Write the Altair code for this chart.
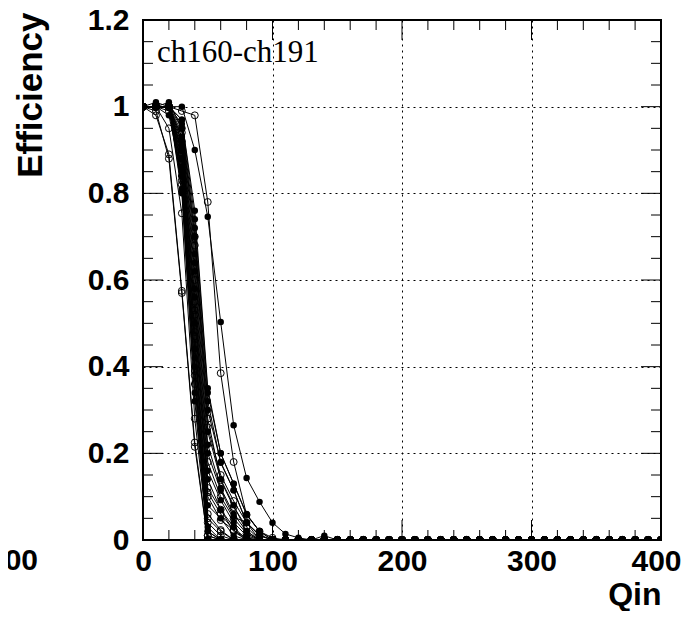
import altair as alt
import pandas as pd

# ---------------- data ----------------
qin_values = list(range(0, 410, 10))          # Qin sampled every 10 from 0 to 400
channels = [f"ch{n}" for n in range(160, 192)]  # ch160 ... ch191

# efficiency starting at Qin = 0 (step 10); all later points read as 0
eff_head = [
    [1.00, 1.00, 1.00, 0.97, 0.74, 0.34, 0.20, 0.13, 0.06, 0.02],
    [1.00, 0.98, 0.89, 0.575, 0.225, 0.00],
    [1.00, 1.00, 1.01, 0.95, 0.70, 0.30, 0.18, 0.115, 0.04, 0.01],
    [1.00, 0.99, 0.88, 0.57, 0.215, 0.00],
    [1.00, 1.00, 1.00, 0.93, 0.66, 0.25, 0.14, 0.08, 0.02],
    [1.00, 1.00, 1.00, 0.99, 0.98, 0.78, 0.385, 0.18, 0.058, 0.02, 0.005],
    [1.00, 1.01, 1.00, 1.00, 0.90, 0.746, 0.503, 0.265, 0.143, 0.088, 0.04, 0.014, 0.005, 0.0, 0.01],
    [1.00, 1.00, 0.99, 0.90, 0.55, 0.12, 0.07, 0.02],
    [1.00, 1.00, 1.00, 0.88, 0.50, 0.08, 0.05, 0.01],
    [1.00, 1.00, 1.00, 0.86, 0.45, 0.05, 0.02],
    [1.00, 1.00, 0.98, 0.84, 0.40, 0.02],
    [1.00, 1.00, 1.00, 0.82, 0.36, 0.00],
    [1.00, 1.00, 1.00, 0.80, 0.32, 0.00],
    [1.00, 1.00, 0.95, 0.754, 0.28, 0.01],
    [1.00, 1.00, 1.00, 0.92, 0.62, 0.20, 0.115, 0.053, 0.04, 0.012],
    [1.00, 1.00, 1.00, 0.94, 0.68, 0.28, 0.138, 0.076, 0.03],
    [1.00, 1.00, 1.00, 0.91, 0.58, 0.16, 0.092, 0.04, 0.01],
    [1.00, 1.00, 1.00, 0.89, 0.52, 0.10, 0.046, 0.023],
    [1.00, 1.00, 1.00, 0.96, 0.72, 0.32, 0.178, 0.115, 0.04],
    [1.00, 1.00, 1.00, 0.87, 0.48, 0.06, 0.023],
    [1.00, 1.00, 1.00, 0.85, 0.44, 0.03],
    [1.00, 1.00, 1.00, 0.83, 0.38, 0.01],
    [1.00, 1.00, 1.00, 0.90, 0.56, 0.14, 0.07, 0.03],
    [1.00, 1.00, 1.00, 0.92, 0.60, 0.18, 0.10, 0.05, 0.015],
    [1.00, 1.00, 1.00, 0.81, 0.34, 0.00],
    [1.00, 1.00, 1.00, 0.88, 0.47, 0.04, 0.01],
    [1.00, 1.00, 1.00, 0.93, 0.64, 0.22, 0.12, 0.06, 0.02],
    [1.00, 1.00, 1.00, 0.95, 0.70, 0.26, 0.15, 0.09, 0.04, 0.01],
    [1.00, 1.00, 1.00, 0.86, 0.42, 0.02],
    [1.00, 1.00, 1.00, 0.84, 0.39, 0.00],
    [1.00, 1.00, 1.00, 0.97, 0.76, 0.35, 0.20, 0.13, 0.058, 0.02],
    [1.00, 1.00, 1.00, 0.90, 0.53, 0.11, 0.06, 0.023, 0.005],
]
tail_value = 0.0
open_marker = [i % 2 == 1 for i in range(len(channels))]  # odd channels drawn with open circles

x_major_ticks = [0, 100, 200, 300, 400]
x_minor_ticks = [v for v in range(0, 401, 20) if v % 100 != 0]
y_major_ticks = [0, 0.2, 0.4, 0.6, 0.8, 1.0, 1.2]
y_minor_ticks = [round(v * 0.05, 2) for v in range(0, 25) if v % 4 != 0]

title_text = "ch160-ch191"

# ---------------- table ----------------
rows = []
for ch, head, is_open in zip(channels, eff_head, open_marker):
    vals = head + [tail_value] * (len(qin_values) - len(head))
    for q, e in zip(qin_values, vals):
        rows.append({"channel": ch, "Qin": q, "Efficiency": e,
                     "style": "open" if is_open else "filled"})
df = pd.DataFrame(rows)

W, H = 518, 520
PAD = {"left": 135, "top": 12, "right": 21, "bottom": 71}
MAJ, MIN = 20, 10
SANS = "Liberation Sans"

xscale = alt.Scale(domain=[0, 400], nice=False, zero=False)
yscale = alt.Scale(domain=[0, 1.2], nice=False, zero=False)

x_axis = alt.Axis(values=x_major_ticks, ticks=False, domain=False, grid=True,
                  gridDash=[2, 4], gridColor="black", gridOpacity=1, gridWidth=1,
                  labelFont=SANS, labelFontWeight="bold", labelFontSize=30,
                  labelColor="black", labelPadding=6, labelFlush=False, labelOverlap=False,
                  labelOffset={"condition": {"test": "datum.value == 400", "value": -5}, "value": 0},
                  title="Qin", titleFont=SANS, titleFontWeight="bold", titleFontSize=32,
                  titleColor="black", titleAnchor="end", titleAlign="right",
                  titleX=W, titleY=64, titleBaseline="alphabetic")
y_axis = alt.Axis(values=y_major_ticks, format="~g", ticks=False, domain=False, grid=True,
                  gridDash=[2, 4], gridColor="black", gridOpacity=1, gridWidth=1,
                  labelFont=SANS, labelFontWeight="bold", labelFontSize=30,
                  labelColor="black", labelPadding=14, labelFlush=False, labelOverlap=False,
                  title="Efficiency", titleFont=SANS, titleFontWeight="bold", titleFontSize=35,
                  titleColor="black", titleAngle=270, titleAlign="right",
                  titleBaseline="middle", titleX=-113, titleY=-8)


def X(field):
    return alt.X(field, type="quantitative", scale=xscale, axis=x_axis)


def Y(field):
    return alt.Y(field, type="quantitative", scale=yscale, axis=y_axis)


base = alt.Chart(df)

lines = base.mark_line(color="black", strokeWidth=1, clip=True).encode(
    x=X("Qin"), y=Y("Efficiency"), detail="channel:N", order="Qin:Q",
)

filled_pts = base.transform_filter(alt.datum.style == "filled").mark_point(
    shape="circle", filled=True, color="black", size=42, opacity=1, clip=True
).encode(x=X("Qin"), y=Y("Efficiency"))

open_pts = base.transform_filter(alt.datum.style == "open").mark_point(
    shape="circle", filled=False, color="black", strokeWidth=1, size=48, opacity=1, clip=True
).encode(x=X("Qin"), y=Y("Efficiency"))


def xticks(vals, length):
    d = alt.Chart(pd.DataFrame({"Qin": vals}))
    bottom = d.mark_rule(color="black", strokeWidth=1).encode(
        x=X("Qin"), y=alt.value(H), y2=alt.value(H - length))
    top = d.mark_rule(color="black", strokeWidth=1).encode(
        x=X("Qin"), y=alt.value(0), y2=alt.value(length))
    return [bottom, top]


def yticks(vals, length):
    d = alt.Chart(pd.DataFrame({"Efficiency": vals}))
    left = d.mark_rule(color="black", strokeWidth=1).encode(
        y=Y("Efficiency"), x=alt.value(0), x2=alt.value(length))
    right = d.mark_rule(color="black", strokeWidth=1).encode(
        y=Y("Efficiency"), x=alt.value(W), x2=alt.value(W - length))
    return [left, right]


tick_layers = (xticks(x_major_ticks, MAJ) + xticks(x_minor_ticks, MIN)
               + yticks(y_major_ticks, MAJ) + yticks(y_minor_ticks, MIN))

label = alt.Chart(pd.DataFrame({"t": [title_text]})).mark_text(
    font="Liberation Serif", fontSize=31, color="black", align="left", baseline="alphabetic"
).encode(x=alt.value(14), y=alt.value(42), text="t:N")

stray = alt.Chart(pd.DataFrame({"t": ["00"]})).mark_text(
    font=SANS, fontWeight="bold", fontSize=30, color="black", align="right", baseline="top"
).encode(x=alt.value(-105), y=alt.value(H + 6), text="t:N")

chart = alt.layer(lines, filled_pts, open_pts, *tick_layers, label, stray).properties(
    width=W, height=H,
    padding=PAD,
    autosize=alt.AutoSizeParams(type="none"),
    background="white",
).configure_view(stroke="black", strokeWidth=2)

chart.save("out.html", embed_options={"renderer": "svg", "actions": False})
